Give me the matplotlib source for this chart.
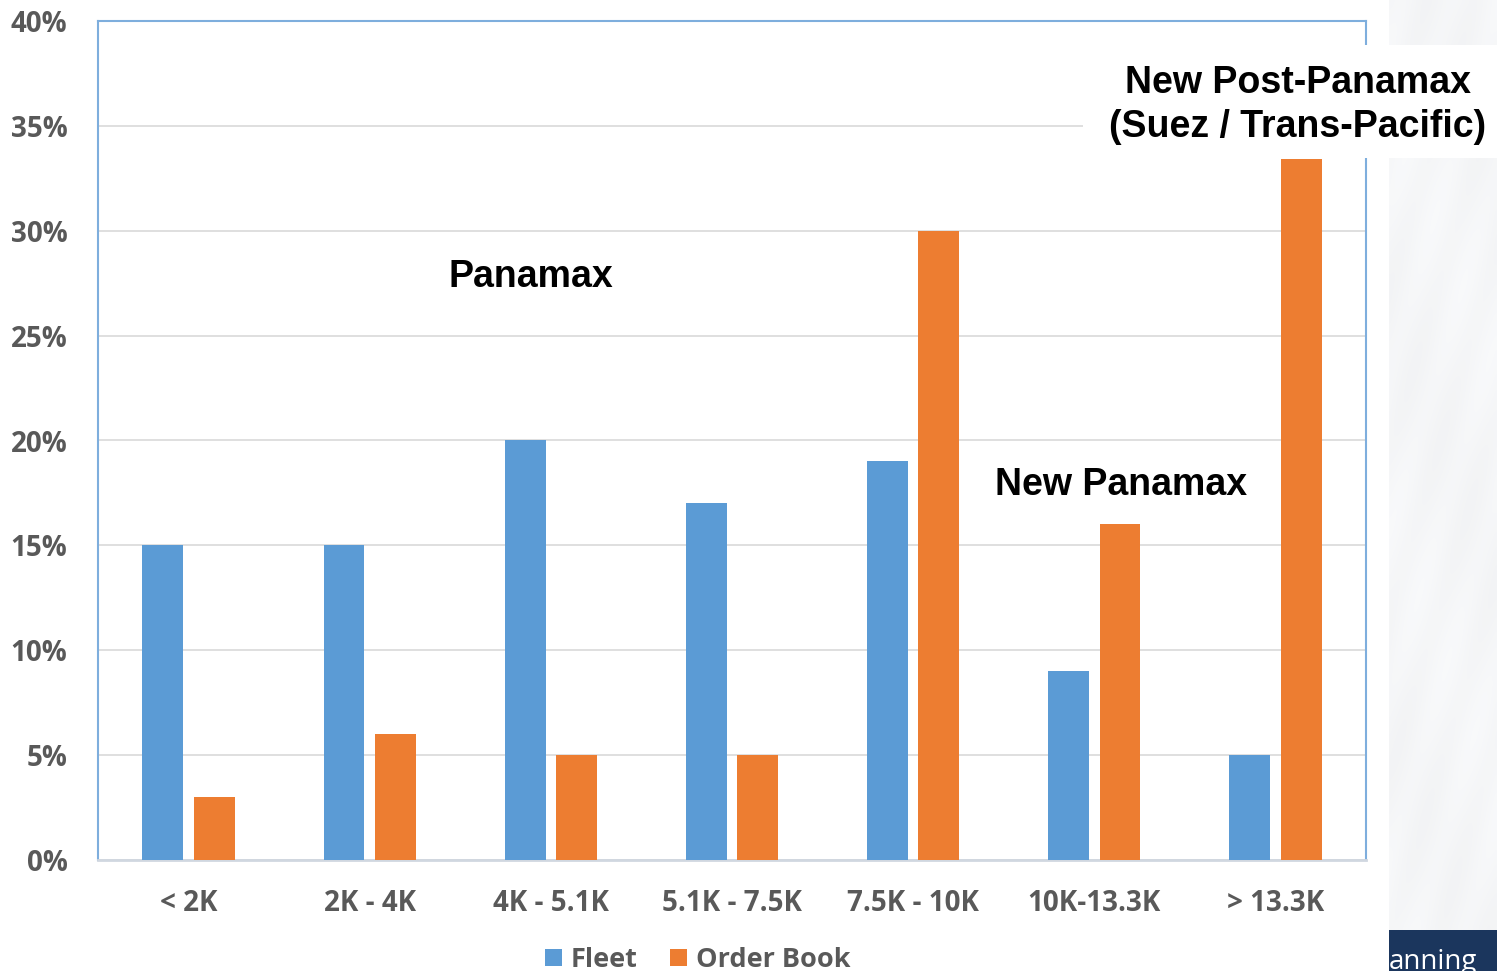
import numpy as np
import matplotlib
matplotlib.use("Agg")
import matplotlib.pyplot as plt
from matplotlib.patches import Rectangle

# Container ship size bands (TEU) and share of fleet / order book
categories = ["< 2K", "2K - 4K", "4K - 5.1K", "5.1K - 7.5K", "7.5K - 10K", "10K-13.3K", "> 13.3K"]
fleet = [15, 15, 20, 17, 19, 9, 5]
order_book = [3, 6, 5, 5, 30, 16, 33.4]
series_names = ["Fleet", "Order Book"]
y_ticks = [0, 5, 10, 15, 20, 25, 30, 35, 40]

BLUE = "#5B9BD5"
ORANGE = "#ED7D31"
TICK_GRAY = "#595959"

W, H = 1497, 971
fig = plt.figure(figsize=(W / 100, H / 100), dpi=100)
fig.patch.set_facecolor("white")

# Decorative slide background strip on the right
strip = fig.add_axes([1389 / W, 41 / H, (W - 1389) / W, (H - 41) / H])
yy, xx = np.mgrid[0:200, 0:40]
tex = 0.972 + 0.006 * np.sin((xx * 0.35 + yy * 0.18)) + 0.005 * np.sin(yy * 0.07 - xx * 0.1)
img = np.dstack([tex * 0.99, tex * 0.994, tex * 1.0])
strip.imshow(np.clip(img, 0, 1), aspect="auto", interpolation="bicubic")
strip.set_axis_off()

# Dark banner at the bottom right
banner = fig.add_axes([1389 / W, 0, (W - 1389) / W, 41 / H])
banner.set_facecolor("#1B365D")
banner.set_xticks([])
banner.set_yticks([])
for s in banner.spines.values():
    s.set_visible(False)
banner.text(0.0, -0.12, "anning", color="white", fontsize=20, family="Open Sans",
            ha="left", va="bottom", transform=banner.transAxes, clip_on=True)

ax = fig.add_axes([98 / W, (H - 860) / H, (1366 - 98) / W, (860 - 21) / H])
x = np.arange(len(categories))
width = 0.225
offset = 0.142
b1 = ax.bar(x - offset, fleet, width, color=BLUE, label=series_names[0], zorder=3)
b2 = ax.bar(x + offset, order_book, width, color=ORANGE, label=series_names[1], zorder=3)

ax.set_xlim(-0.5, len(categories) - 0.5)
ax.set_ylim(0, 40)
ax.set_yticks(y_ticks)
ax.set_yticklabels([f"{v}%" for v in y_ticks])
ax.set_xticks(x)
ax.set_xticklabels(categories)
ax.yaxis.grid(True, color="#D9D9D9", lw=1.2, zorder=0)
ax.set_axisbelow(True)
ax.tick_params(axis="both", length=0, labelsize=20, labelcolor=TICK_GRAY)
ax.tick_params(axis="y", pad=22)
ax.tick_params(axis="x", pad=21)
for lab in ax.get_xticklabels() + ax.get_yticklabels():
    lab.set_family("Open Sans")
    lab.set_fontweight("bold")

for side in ["left", "right", "top"]:
    ax.spines[side].set_color("#7EAEDD")
    ax.spines[side].set_linewidth(1.5)
ax.spines["bottom"].set_color("#D0D7E0")
ax.spines["bottom"].set_linewidth(2)

# Segment labels
lab_kw = dict(fontsize=27, fontweight="bold", family="Liberation Sans", color="black",
              ha="center", va="center", zorder=6, clip_on=False)
ax.text(1.89, 27.8, "Panamax", **lab_kw)
ax.text(5.15, 17.9, "New Panamax", **lab_kw)

# White box behind the post-panamax label, overlapping the frame
fig.patches.append(Rectangle((1083 / W, (H - 158) / H), (W - 1083) / W, (158 - 45) / H,
                             transform=fig.transFigure, facecolor="white",
                             edgecolor="none", zorder=5))
fig.text(1298 / W, (H - 105) / H, "New Post-Panamax\n(Suez / Trans-Pacific)",
         fontsize=27, fontweight="bold", family="Liberation Sans", color="black",
         ha="center", va="center", linespacing=1.27, zorder=7)

leg = fig.legend(handles=[b1, b2], labels=series_names, loc="center",
                 bbox_to_anchor=(698 / W, (H - 960) / H), ncol=2, frameon=False,
                 handlelength=0.6, handleheight=0.6, handletextpad=0.35, columnspacing=1.2,
                 prop={"family": "Open Sans", "weight": "bold", "size": 19.5})
for t in leg.get_texts():
    t.set_color(TICK_GRAY)

fig.savefig("out.png", dpi=100, facecolor="white")
